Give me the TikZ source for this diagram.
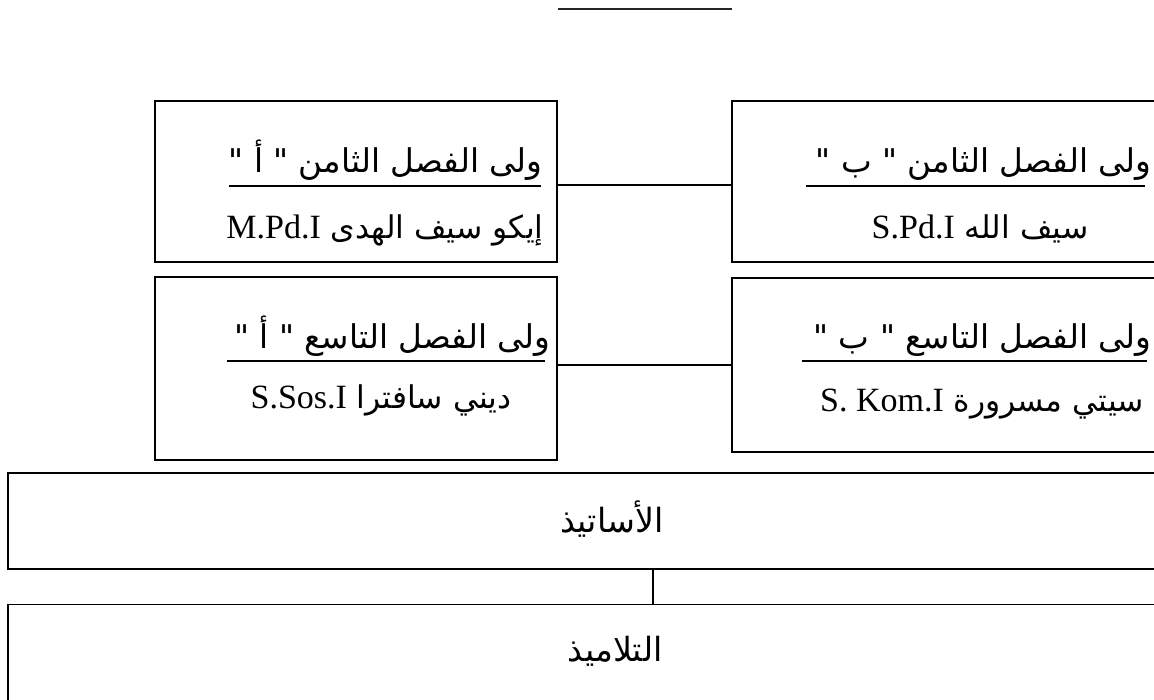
\documentclass[tikz,border=0pt]{standalone}
\usepackage{fontspec}
\setmainfont{Liberation Serif}
\newfontfamily\arabicfont[Script=Arabic]{DejaVu Sans}
\TeXXeTstate=1
\usetikzlibrary{positioning}

\tikzset{
  kotak/.style={draw, line width=1.3pt, inner sep=0pt, minimum width=#1},
  garis/.style={line width=1.8pt},
  judul/.style={anchor=base east, inner sep=0pt, font=\arabicfont\fontsize{24.5}{28}\selectfont},
  nama/.style={anchor=base, inner sep=0pt, font=\arabicfont\fontsize{23.5}{28}\selectfont},
  besar/.style={anchor=base, inner sep=0pt, font=\arabicfont\fontsize{25}{28}\selectfont},
}
\newcommand{\gelar}[1]{{\rmfamily\fontsize{25.5}{28}\selectfont\beginL #1\endL}}

\begin{document}
\begin{tikzpicture}[x=0.75pt, y=-0.75pt, thick]
	\useasboundingbox (0,0) rectangle (1154,700);
	\clip (0,0) rectangle (1154,700);

	% garis judul
	\draw[garis, black!85] (558,9) -- (732,9);

	% wali kelas
	\node[kotak=301.5pt, minimum height=120.75pt] (W_8a) at (356,181.5) {};
	\node[kotak=336pt,   minimum height=120.75pt] (W_8b) at (956,181.5) {};
	\node[kotak=301.5pt, minimum height=137.25pt] (W_9a) at (356,368.5) {};
	\node[kotak=336pt,   minimum height=130.5pt]  (W_9b) at (956,365) {};

	\node[judul] (J_8a) at (543,172) {\beginR ولى الفصل الثامن " أ "\endR};
	\node[judul] (J_8b) at (1152,172) {\beginR ولى الفصل الثامن " ب "\endR};
	\node[judul] (J_9a) at (551,348) {\beginR ولى الفصل التاسع " أ "\endR};
	\node[judul] (J_9b) at (1152,348) {\beginR ولى الفصل التاسع " ب "\endR};

	\draw[garis] (229,186) -- (541,186);
	\draw[garis] (806,186) -- (1145,186);
	\draw[garis] (227,361) -- (545,361);
	\draw[garis] (802,361) -- (1147,361);

	\node[nama] (N_8a) at (385,238) {\beginR إيكو سيف الهدى \gelar{M.Pd.I}\endR};
	\node[nama] (N_8b) at (980,238) {\beginR سيف الله \gelar{S.Pd.I}\endR};
	\node[nama] (N_9a) at (381,408) {\beginR ديني سافترا \gelar{S.Sos.I}\endR};
	\node[nama] (N_9b) at (982,411) {\beginR سيتي مسرورة \gelar{S. Kom.I}\endR};

	% guru dan murid
	\node[kotak=967.5pt, minimum height=72pt]    (Guru)  at (653,521) {};
	\node[kotak=967.5pt, minimum height=93.75pt] (Murid) at (653,667) {};
	\node[besar] (T_guru)  at (612,532) {\beginR الأساتيذ\endR};
	\node[besar] (T_murid) at (615,661) {\beginR التلاميذ\endR};

	\path[draw, line width=0.9pt]
		(W_8a.east |- 0,185) -- (W_8b.west |- 0,185)
		(W_9a.east |- W_9b.west) -- (W_9b.west)
		(Guru.south) -- (Murid.north);
\end{tikzpicture}
\end{document}
